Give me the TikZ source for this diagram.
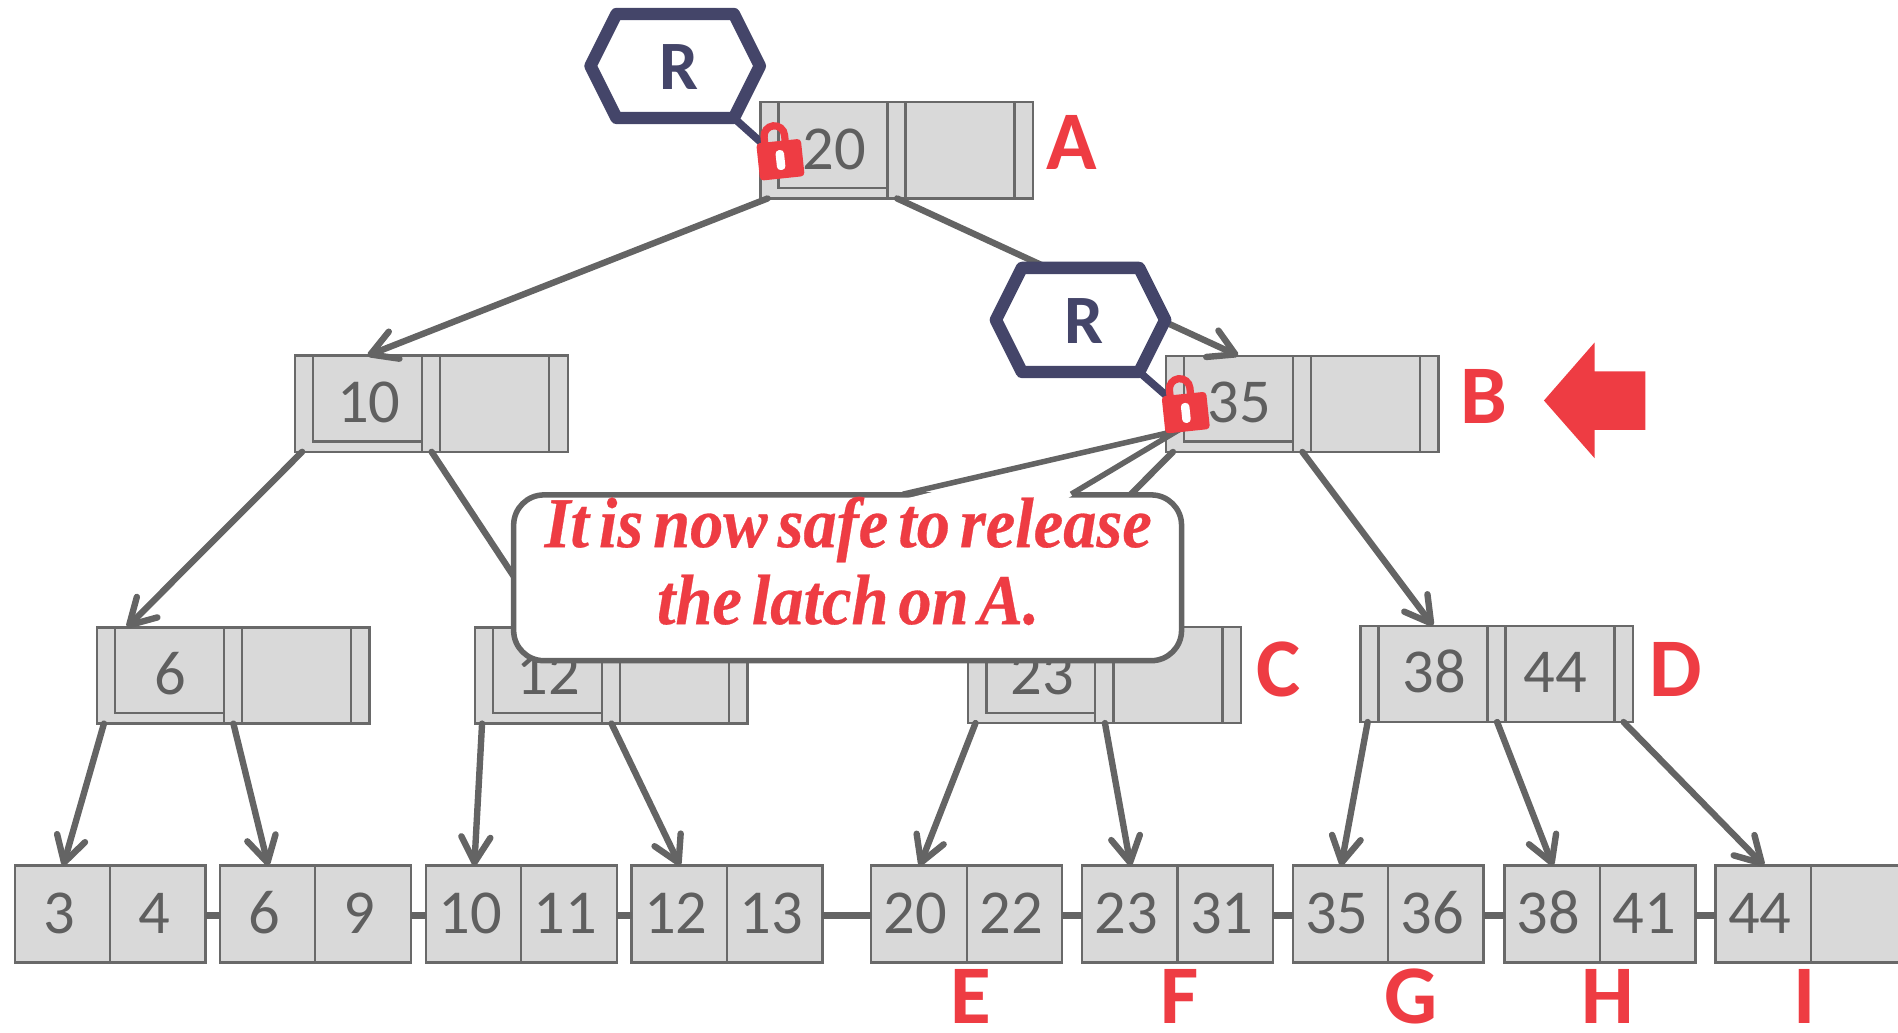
\documentclass[tikz,border=0pt]{standalone}
\usepackage{fontspec}
\setmainfont{Carlito}
\newfontfamily\notefont[WordSpace=0.6,FakeStretch=0.93,BoldItalicFeatures={FakeBold=0.4}]{Liberation Serif}
\usetikzlibrary{arrows.meta,calc}

\definecolor{boxfill}{RGB}{217,217,217}
\definecolor{boxgray}{RGB}{105,105,105}
\definecolor{keygray}{RGB}{95,95,95}
\definecolor{linkgray}{RGB}{100,100,100}
\definecolor{latchblue}{RGB}{68,69,105}
\definecolor{alertred}{RGB}{238,60,67}

\tikzset{
  boxline/.style={draw=boxgray,line width=0.55pt},
  keytext/.style={text=keygray,font=\fontsize{14.7}{16}\selectfont,anchor=base,inner sep=0pt},
  %inner node of the tree, origin at its top left corner
  pics/bnode/.style 2 args={code={
    \fill[boxfill] (0,0) rectangle (225.5,79.5);
    \ifx\relax#2\relax
      \draw[boxline] (15,0) -- (15,71) -- (105,71);
    \else
      \draw[boxline] (15,0) -- (15,79.5);
    \fi
    \draw[boxline] (0,0) rectangle (225.5,79.5) (105,0) -- (105,79.5) (120,0) -- (120,79.5) (210,0) -- (210,79.5);
    \node[keytext] (-k1) at (61,55.5) {#1};
    \node[keytext] (-k2) at (161,55.5) {#2};
    \coordinate (-in) at (60,0);
    \coordinate (-inl) at (25,0);
    \coordinate (-p0) at (6,79.5);
    \coordinate (-p1) at (113,79.5);
    \coordinate (-p2) at (217.5,79.5);
  }},
  %leaf page
  pics/leaf/.style 2 args={code={
    \draw[boxline,fill=boxfill] (0,0) rectangle (157.7,79.9) (78.85,0) -- (78.85,79.9);
    \node[keytext] (-k1) at (36.5,56.2) {#1};
    \node[keytext] (-k2) at (115.5,56.2) {#2};
    \coordinate (-in) at (40,0);
    \coordinate (-w) at (0,41.3);
    \coordinate (-e) at (157.7,41.3);
  }},
  %read latch
  pics/latch/.style={code={
    \draw[latchline] (-70,0) -- (-48.5,-43) -- (48.5,-43) -- (70,0) -- (48.5,43) -- (-48.5,43) -- cycle;
    \node[latchtext] (-label) at (3,19.3) {R};
    \coordinate (-se) at (48.5,43);
  }},
  %lock icon, origin at the centre of its body
  pics/padlock/.style={code={
    \draw[alertred,line width=0.6mm] (-11.5,-13) -- (-11.5,-20) arc[start angle=180,end angle=360,radius=8.5] -- (5.5,-13);
    \fill[alertred,rounded corners=0.3mm] (-18.5,-15.5) rectangle (18.5,15.5);
    \fill[white,rounded corners=0.3mm] (-3.5,-8) rectangle (3.5,8.5);
    \coordinate (-c) at (0,0);
  }}
}

\begin{document}
\begin{tikzpicture}[x=0.1mm,y=-0.1mm,
  ptr/.style={draw=linkgray,line width=1.5pt,line cap=round,-{Straight Barb[length=2.1mm,width=2.4mm,round]}},
  leaflink/.style={draw=linkgray,line width=1.6pt},
  latchline/.style={draw=latchblue,line width=2.9pt,line join=round,fill=white},
  latchtext/.style={text=latchblue,font=\fontsize{16.3}{17}\selectfont\bfseries,anchor=base,inner sep=0pt},
  latchlink/.style={draw=latchblue,line width=1.8pt},
  tag/.style={text=alertred,font=\fontsize{19.6}{20}\selectfont\bfseries,anchor=base,inner sep=0pt},
  notebox/.style={draw=linkgray,line width=1.3pt,fill=white,rounded corners=2.5mm,minimum width=5.52cm,minimum height=1.37cm,inner sep=0pt},
  notetext/.style={text=alertred,font=\notefont\bfseries\itshape\fontsize{16.8}{18.1}\selectfont,align=center,inner sep=0pt}]
  \clip (0,0) rectangle (1568.6,853.7);
  %inner nodes
  \pic (A) at (628.4,84.5) {bnode={20}{}};
  \pic (B) at (963.4,294) {bnode={35}{}};
  \pic (N10) at (243.7,293.9) {bnode={10}{}};
  \pic (N6) at (79.9,518.5) {bnode={6}{}};
  \pic (N12) at (392.4,518.5) {bnode={12}{}};
  \pic (C) at (800.2,518.1) {bnode={23}{}};
  \pic (D) at (1124.3,517.2) {bnode={38}{44}};
  %leaves
  \pic (L1) at (12.2,715.4) {leaf={3}{4}};
  \pic (L2) at (181.7,715.4) {leaf={6}{9}};
  \pic (L3) at (352,715.4) {leaf={10}{11}};
  \pic (L4) at (522,715.4) {leaf={12}{13}};
  \pic (L5) at (720.1,715.4) {leaf={20}{22}};
  \pic (L6) at (894.4,715.4) {leaf={23}{31}};
  \pic (L7) at (1068.4,715.4) {leaf={35}{36}};
  \pic (L8) at (1243.4,715.4) {leaf={38}{41}};
  \pic (L9) at (1417.9,715.4) {leaf={44}{}};
  \foreach \a/\b in {L1/L2,L2/L3,L3/L4,L4/L5,L5/L6,L6/L7,L7/L8,L8/L9}
    \draw[leaflink] (\a-e) -- (\b-w);
  %pointers
  \draw[ptr] (A-p0) -- (N10-in);
  \draw[ptr] (A-p1) -- (B-in);
  \draw[ptr] (N10-p0) -- (N6-inl);
  \draw[ptr] (N10-p1) -- (N12-in);
  \draw[ptr] (B-p0) -- (C-inl);
  \draw[ptr] (B-p1) -- (D-in);
  \draw[ptr] (N6-p0) -- (L1-in);
  \draw[ptr] (N6-p1) -- (L2-in);
  \draw[ptr] (N12-p0) -- (L3-in);
  \draw[ptr] (N12-p1) -- (L4-in);
  \draw[ptr] (C-p0) -- (L5-in);
  \draw[ptr] (C-p1) -- (L6-in);
  \draw[ptr] (D-p0) -- (L7-in);
  \draw[ptr] (D-p1) -- (L8-in);
  \draw[ptr] (D-p2) -- (L9-in);
  %latches
  \pic (R1) at (558,54.5) {latch};
  \pic (R2) at (893,264.4) {latch};
  \coordinate (lockApos) at (645,132);
  \coordinate (lockBpos) at (980,341);
  \draw[latchlink] (R1-se) -- (lockApos);
  \draw[latchlink] (R2-se) -- (lockBpos);
  %callout
  \node[notebox] (note) at (700.5,477.5) {};
  \coordinate (tipL) at (746.3,408.4);
  \coordinate (tipR) at (885.3,408.4);
  \coordinate (tip) at (973.4,355.8);
  \fill[white] ($(tipL)+(3,3.5)$) -- (tip) -- ($(tipR)+(-3,3.5)$) -- cycle;
  \draw[draw=linkgray,line width=1.3pt] (tipL) -- (tip) -- (tipR);
  \node[notetext] (msg) at (701,463.6) {It is now safe to release\\the latch on A.};
  %locks
  \pic[rotate=6] (lockA) at (lockApos) {padlock};
  \pic[rotate=6] (lockB) at (lockBpos) {padlock};
  %labels
  \node[tag] (tagA) at (885.7,140.4) {A};
  \node[tag] (tagB) at (1226.3,350.3) {B};
  \node[tag] (tagC) at (1056.5,575.5) {C};
  \node[tag] (tagD) at (1384.8,575.5) {D};
  \node[tag] (tagE) at (802.7,846) {E};
  \node[tag] (tagF) at (975.2,846) {F};
  \node[tag] (tagG) at (1166.5,846) {G};
  \node[tag] (tagH) at (1328.7,846) {H};
  \node[tag] (tagI) at (1491.5,846) {I};
  %arrow pointing at B
  \fill[alertred] (1276,331) -- (1317.8,283.1) -- (1317.8,307) -- (1359.8,307) -- (1359.8,355.2) -- (1317.8,355.2) -- (1317.8,378.6) -- cycle;
\end{tikzpicture}
\end{document}
